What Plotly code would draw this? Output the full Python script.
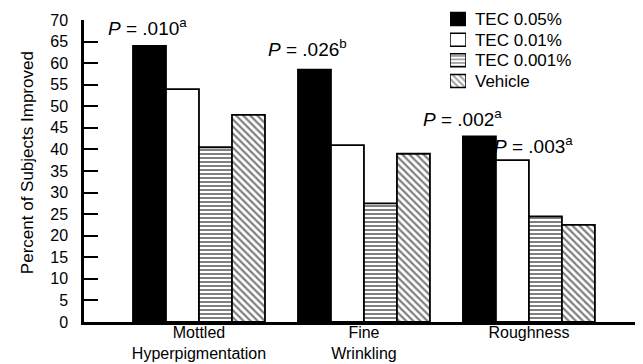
import plotly.graph_objects as go

categories = ["Mottled<br>Hyperpigmentation", "Fine<br>Wrinkling", "Roughness"]
series_names = ["TEC 0.05%", "TEC 0.01%", "TEC 0.001%", "Vehicle"]
tec005 = [64, 58.5, 43]
tec001 = [54, 41, 37.5]
tec0001 = [40.5, 27.5, 24.5]
vehicle = [48, 39, 22.5]
y_ticks = list(range(0, 75, 5))
p_labels = ["<i>P</i> = .010<sup>a</sup>", "<i>P</i> = .026<sup>b</sup>",
            "<i>P</i> = .002<sup>a</sup>", "<i>P</i> = .003<sup>a</sup>"]
y_title = "Percent of Subjects Improved"

FONT = "Liberation Sans, Arial, Helvetica, sans-serif"
xs = list(range(len(categories)))

fills = ["black", "white", "white", "white"]
shapes = ["", "", "-", "\\"]
sizes = [4, 4, 4, 5]
solid = [0.5, 0.5, 0.5, 0.45]
values = [tec005, tec001, tec0001, vehicle]

fig = go.Figure()
for name, vals, fc, sh, sz, so in zip(series_names, values, fills, shapes, sizes, solid):
    marker = dict(color=fc, line=dict(color="black", width=1.8))
    if sh:
        marker["pattern"] = dict(shape=sh, fgcolor="black", bgcolor="white", size=sz, solidity=so)
    fig.add_trace(go.Bar(x=xs, y=vals, name=name, marker=marker, showlegend=False))

# legend drawn as a tiny subplot: one swatch per series, names as tick labels
fig.add_trace(go.Bar(
    x=[1] * len(series_names), y=series_names, orientation="h",
    xaxis="x2", yaxis="y2", showlegend=False, hoverinfo="skip",
    marker=dict(color=fills, line=dict(color="black", width=1.5),
                pattern=dict(shape=shapes, fgcolor="black", bgcolor="white",
                             size=[4, 4, 3.5, 4.5], solidity=[0.5, 0.5, 0.5, 0.45])),
))

# P-value annotations: (x in category units, baseline value)
ann_pos = [(-0.31, 65.4), (0.655, 60.6), (1.60, 44.3), (2.025, 38.0)]
for txt, (x, y) in zip(p_labels, ann_pos):
    fig.add_annotation(x=x, y=y, text=txt, showarrow=False, yanchor="bottom",
                       yshift=-1, font=dict(family=FONT, size=19, color="black"))

fig.add_annotation(xref="paper", yref="paper", x=-0.1005, y=0.506, text=y_title,
                   textangle=-90, showarrow=False, xanchor="center", yanchor="middle",
                   font=dict(family=FONT, size=17, color="black"))

fig.update_layout(
    width=643, height=364,
    margin=dict(l=76, r=0, t=0, b=50, autoexpand=False),
    paper_bgcolor="white", plot_bgcolor="white",
    barmode="group", bargap=0.2, bargroupgap=0,
    font=dict(family=FONT, size=16, color="black"),
    showlegend=False,
    xaxis=dict(domain=[0, 1], range=[-0.697, 2.74], tickmode="array", tickvals=xs,
               ticktext=categories, showline=True, linecolor="black", linewidth=2.5,
               ticks="", showgrid=False, zeroline=False, automargin=False,
               ticklabelstandoff=-6, tickfont=dict(family=FONT, size=16)),
    yaxis=dict(domain=[0, 302 / 314], range=[0, 70], tickmode="array", tickvals=y_ticks,
               showline=True, linecolor="black", linewidth=2.5, ticks="inside",
               ticklen=14, tickwidth=2, tickcolor="black", showgrid=False, zeroline=False,
               automargin=False, ticklabelstandoff=10, tickfont=dict(family=FONT, size=16)),
    xaxis2=dict(domain=[0.6455, 0.6737], range=[0, 1], anchor="y2", visible=False,
                fixedrange=True),
    yaxis2=dict(domain=[0.7347, 0.9979], anchor="x2", side="right", autorange="reversed",
                showline=False, showgrid=False, zeroline=False, ticks="", automargin=False,
                ticklabelstandoff=8, tickfont=dict(family=FONT, size=17, color="black"),
                fixedrange=True),
)
# horizontal swatch bars: gap between rows
fig.update_traces(selector=dict(orientation="h"), width=0.63)

fig.write_html("out.html")
